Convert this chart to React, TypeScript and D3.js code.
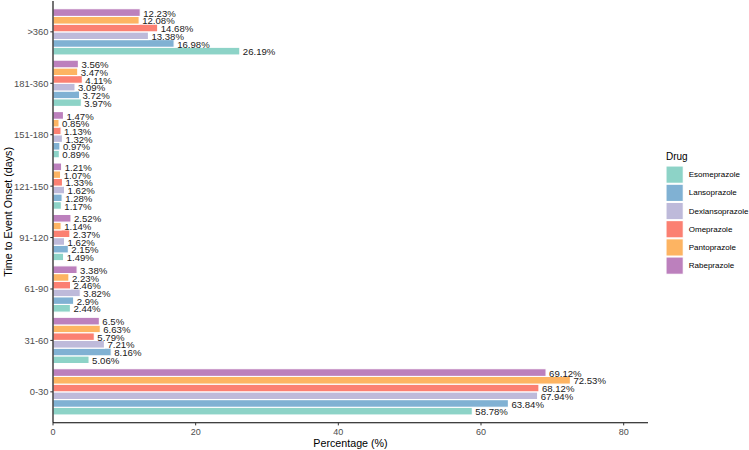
import React from "react";
import * as d3 from "d3";

const categories = ["0-30", "31-60", "61-90", "91-120", "121-150", "151-180", "181-360", ">360"];
const drugs = ["Esomeprazole", "Lansoprazole", "Dexlansoprazole", "Omeprazole", "Pantoprazole", "Rabeprazole"];
const colors = ["#8DD3C7", "#80B1D3", "#BEBADA", "#FB8072", "#FDB462", "#BC80BD"];

const esomeprazole = [58.78, 5.06, 2.44, 1.49, 1.17, 0.89, 3.97, 26.19];
const lansoprazole = [63.84, 8.16, 2.9, 2.15, 1.28, 0.97, 3.72, 16.98];
const dexlansoprazole = [67.94, 7.21, 3.82, 1.62, 1.62, 1.32, 3.09, 13.38];
const omeprazole = [68.12, 5.79, 2.46, 2.37, 1.33, 1.13, 4.11, 14.68];
const pantoprazole = [72.53, 6.63, 2.23, 1.14, 1.07, 0.85, 3.47, 12.08];
const rabeprazole = [69.12, 6.5, 3.38, 2.52, 1.21, 1.47, 3.56, 12.23];

const seriesValues = [esomeprazole, lansoprazole, dexlansoprazole, omeprazole, pantoprazole, rabeprazole];
const xTicks = [0, 20, 40, 60, 80];

const W = 749;
const H = 450;
const FONT = "'Liberation Sans', Arial, Helvetica, sans-serif";

export default function App() {
  const left = 53;
  const right = 648;
  const top = 1;
  const bottom = 422.7;

  const maxV = d3.max(seriesValues.flat()) as number;
  const x = d3.scaleLinear().domain([0, maxV * 1.15]).range([left, right]);
  const y = d3
    .scaleBand<string>()
    .domain([...categories].reverse())
    .range([top, bottom])
    .paddingInner(0)
    .paddingOuter(0.1);
  const step = y.step();
  const groupW = step * 0.9;
  const inner = d3
    .scaleBand<string>()
    .domain([...drugs].reverse())
    .range([0, groupW]);

  const legendX = 666;
  const keyH = 17.28;
  const keyGap = 18.2;
  const legendTop = 166;

  return (
    <svg
      width={W}
      height={H}
      style={{ position: "absolute", left: 0, top: 0, background: "#fff" }}
      fontFamily={FONT}
    >
      <rect width={W} height={H} fill="#fff" />
      {categories.map((c, ci) => {
        const bandStart = (y(c) as number) + (step - groupW) / 2;
        return (
          <g key={c}>
            {drugs.map((d, di) => {
              const v = seriesValues[di][ci];
              const by = bandStart + (inner(d) as number);
              const bh = inner.bandwidth();
              return (
                <g key={d}>
                  <rect
                    x={x(0)}
                    y={by}
                    width={x(v) - x(0)}
                    height={bh}
                    fill={colors[di]}
                    stroke="#fff"
                    strokeWidth={1.1}
                  />
                  <text
                    x={x(v) + 3}
                    y={by + bh / 2 + 0.6}
                    dominantBaseline="central"
                    fontSize={9.6}
                    fill="#1a1a1a"
                  >
                    {`${v}%`}
                  </text>
                </g>
              );
            })}
          </g>
        );
      })}

      {/* axes */}
      <line x1={left} x2={left} y1={top} y2={bottom} stroke="#000" strokeWidth={1.1} />
      <line x1={left} x2={right} y1={bottom} y2={bottom} stroke="#000" strokeWidth={1.1} />
      {xTicks.map((t) => (
        <g key={t}>
          <line x1={x(t)} x2={x(t)} y1={bottom} y2={bottom + 2.7} stroke="#333" strokeWidth={1} />
          <text x={x(t)} y={bottom + 9.5} textAnchor="middle" dominantBaseline="central" fontSize={9} fill="#4D4D4D">
            {t}
          </text>
        </g>
      ))}
      {categories.map((c) => {
        const cy = (y(c) as number) + step / 2;
        return (
          <g key={c}>
            <line x1={left - 2.7} x2={left} y1={cy} y2={cy} stroke="#333" strokeWidth={1} />
            <text x={left - 4.5} y={cy} textAnchor="end" dominantBaseline="central" fontSize={9.4} fill="#4D4D4D">
              {c}
            </text>
          </g>
        );
      })}
      <text x={(left + right) / 2} y={443} textAnchor="middle" dominantBaseline="central" fontSize={10.7} fill="#000">
        Percentage (%)
      </text>
      <text
        transform={`translate(8, ${(top + bottom) / 2}) rotate(-90)`}
        textAnchor="middle"
        dominantBaseline="central"
        fontSize={10.7}
        fill="#000"
      >
        Time to Event Onset (days)
      </text>

      {/* legend */}
      <text x={legendX} y={legendTop - 9.5} dominantBaseline="central" fontSize={10} fill="#000">
        Drug
      </text>
      {drugs.map((d, i) => {
        const ky = legendTop + i * keyGap;
        return (
          <g key={d}>
            <rect x={legendX} y={ky} width={keyH} height={keyH} fill={colors[i]} stroke="#fff" strokeWidth={1.1} />
            <text x={legendX + keyH + 5.5} y={ky + keyH / 2} dominantBaseline="central" fontSize={8} fill="#000">
              {d}
            </text>
          </g>
        );
      })}
    </svg>
  );
}
